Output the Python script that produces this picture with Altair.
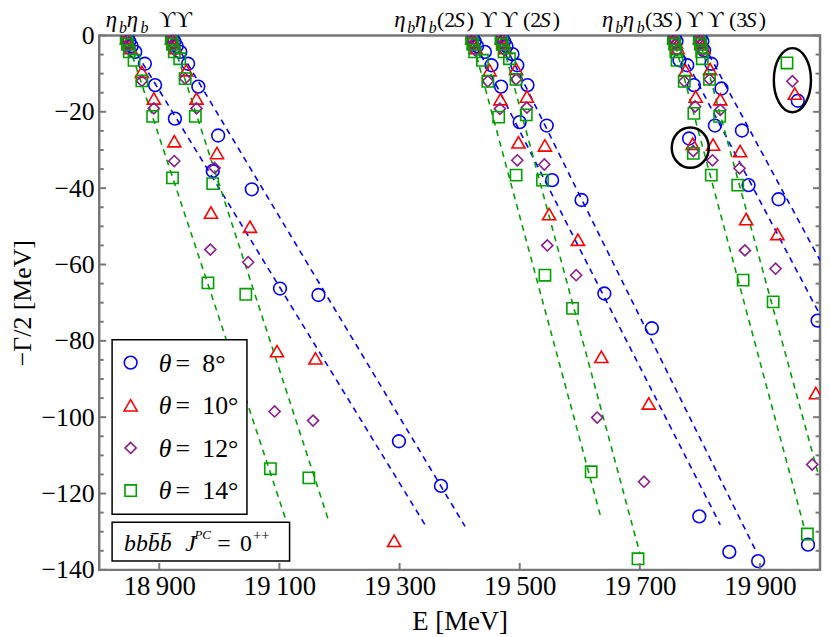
import altair as alt
import pandas as pd

SERIF = "Liberation Serif"

# ---------------- axes ----------------
E_RANGE = [18800, 20000]
V_RANGE = [-140, 0]
x_ticks = [18900, 19100, 19300, 19500, 19700, 19900]
y_ticks = [0, -20, -40, -60, -80, -100, -120, -140]
y_minor = [v for v in range(-135, 0, 5) if v % 20 != 0]

# ---------------- data: complex-scaled eigenvalues ----------------
theta_labels = ["8", "10", "12", "14"]

E8 = [18847, 18850, 18854, 18860, 18876, 18893, 18926, 18989, 19101, 19299,
      18922, 18925, 18929, 18935, 18948, 18965, 18998, 19054, 19165, 19369,
      19422, 19425, 19429, 19442, 19453, 19469, 19500, 19554, 19641, 19799,
      19471, 19474, 19478, 19488, 19496, 19513, 19545, 19603, 19720, 19849,
      19758, 19761, 19766, 19779, 19790, 19825, 19881, 19897,
      19801, 19804, 19807, 19819, 19836, 19870, 19931, 19996, 19980,
      19782, 19963]
V8 = [-0.6, -1.5, -2.8, -4.3, -7.4, -13.0, -21.8, -35.5, -66.3, -106.3,
      -0.6, -1.5, -2.8, -4.3, -7.4, -13.4, -26.2, -40.3, -68.0, -118.0,
      -0.6, -1.5, -2.8, -4.3, -7.8, -13.4, -22.7, -37.9, -67.6, -126.0,
      -0.6, -1.5, -2.8, -4.9, -7.8, -13.0, -23.6, -43.1, -76.7, -135.3,
      -0.6, -1.5, -6.5, -7.8, -13.0, -23.6, -39.2, -137.7,
      -0.6, -1.5, -3.9, -7.4, -13.9, -24.9, -42.9, -74.7, -133.4,
      -27.0, -17.1]

E10 = [18846, 18849, 18852, 18871, 18891, 18925, 18986, 19096,
       18921, 18924, 18927, 18945, 18962, 18996, 19051, 19160, 19291,
       19421, 19424, 19427, 19450, 19468, 19498, 19549, 19636,
       19470, 19473, 19476, 19494, 19512, 19542, 19597, 19715,
       19757, 19760, 19763, 19776, 19793, 19822, 19877,
       19800, 19803, 19806, 19817, 19834, 19867, 19929, 19993,
       19788, 19958]
V10 = [-0.7, -1.8, -3.3, -9.5, -16.5, -27.7, -46.4, -82.7,
       -0.7, -1.8, -3.3, -9.1, -16.5, -30.8, -50.1, -84.6, -132.4,
       -0.7, -1.8, -3.3, -9.1, -16.7, -28.0, -46.8, -84.2,
       -0.7, -1.8, -3.3, -8.7, -16.0, -28.8, -53.5, -96.4,
       -0.7, -1.8, -3.3, -9.1, -16.0, -28.6, -48.1,
       -0.7, -1.8, -3.3, -8.8, -16.7, -30.3, -52.0, -93.7,
       -28.4, -15.2]

E12 = [18845, 18848, 18851, 18871, 18891, 18925, 18985, 19092,
       18920, 18923, 18926, 18943, 18962, 18992, 19048, 19156,
       19420, 19423, 19426, 19447, 19467, 19496, 19546, 19629,
       19469, 19472, 19475, 19494, 19512, 19541, 19594, 19707,
       19756, 19759, 19762, 19774, 19792, 19821, 19875,
       19799, 19802, 19805, 19816, 19834, 19866, 19926, 19987,
       19789, 19954]
V12 = [-0.8, -2.1, -3.9, -11.9, -19.1, -32.9, -56.1, -98.5,
       -0.8, -2.1, -3.9, -11.3, -19.1, -34.7, -59.4, -100.9,
       -0.8, -2.1, -3.9, -12.0, -19.2, -32.7, -55.0, -100.1,
       -0.8, -2.1, -3.9, -11.5, -18.9, -33.8, -62.8, -116.9,
       -0.8, -2.1, -3.9, -12.0, -18.6, -32.7, -56.3,
       -0.8, -2.1, -3.9, -11.5, -19.5, -34.8, -61.1, -112.4,
       -30.3, -12.0]

E14 = [18845, 18847, 18850, 18858, 18871, 18889, 18922, 18981, 19085,
       18920, 18922, 18925, 18934, 18943, 18960, 18989, 19044, 19149,
       19420, 19422, 19425, 19438, 19447, 19465, 19494, 19542, 19619,
       19469, 19471, 19474, 19483, 19494, 19511, 19538, 19588, 19697,
       19756, 19758, 19760, 19762, 19774, 19790, 19819, 19872,
       19799, 19801, 19803, 19804, 19816, 19833, 19863, 19922, 19979,
       19789, 19945]
V14 = [-0.9, -2.3, -4.3, -6.5, -11.9, -21.2, -37.3, -64.8, -113.5,
       -0.9, -2.3, -4.3, -6.1, -11.3, -21.2, -38.8, -67.8, -115.9,
       -0.9, -2.3, -4.3, -6.5, -12.0, -21.4, -36.6, -62.8, -114.3,
       -0.9, -2.3, -4.3, -6.1, -11.5, -20.8, -37.9, -71.5, -137.1,
       -0.9, -2.3, -4.3, -6.5, -12.0, -20.4, -36.6, -64.1,
       -0.9, -2.3, -4.3, -6.1, -11.5, -21.2, -39.2, -69.8, -130.6,
       -30.9, -7.2]

# dashed continuum lines (start at threshold, end point)
blue_line_E = [(18844, 19346), (18919, 19409), (19419, 19834), (19468, 19895), (19755, 20000), (19798, 20000)]
blue_line_V = [(0, -129.1), (0, -128.6), (0, -128.2), (0, -135.6), (0, -73.2), (0, -58.9)]
green_line_E = [(18844, 19110), (18919, 19181), (19419, 19634), (19468, 19700), (19755, 19974), (19798, 19996)]
green_line_V = [(0, -126.5), (0, -126.7), (0, -125.6), (0, -135.6), (0, -129.1), (0, -114.3)]

# circled resonances
res_E = [19784, 19954]
res_V = [-29.4, -11.7]

# threshold labels (left edge position in MeV)
thr_names = ["ηbηb", "ϒϒ", "ηbηb(2S)", "ϒϒ(2S)", "ηbηb(3S)", "ϒϒ(3S)"]
thr_label_E = [18811, 18899, 19291, 19434, 19637, 19777]

# ---------------- styles ----------------
series_style = {
    "8": dict(shape="circle", color="#0000ff", size=165),
    "10": dict(shape="triangle-up", color="#ff0000", size=175),
    "12": dict(shape="diamond", color="#8b1c8b", size=125),
    "14": dict(shape="square", color="#00a000", size=130),
}
series_data = {"8": (E8, V8), "10": (E10, V10), "12": (E12, V12), "14": (E14, V14)}

W, H = 727, 539
GRAY = "#777777"

xs = alt.Scale(domain=E_RANGE, nice=False, zero=False)
ys = alt.Scale(domain=V_RANGE, nice=False, zero=False)

xaxis = alt.Axis(
    values=x_ticks,
    labelExpr="slice(format(datum.value,'d'),0,2) + '\u2009' + slice(format(datum.value,'d'),2)",
    labelFont=SERIF, labelFontSize=27, labelColor="black", labelPadding=25,
    labelBaseline="alphabetic", labelFlush=False, labelOverlap=False,
    ticks=False, tickSize=0, domain=False, grid=False,
    title="E [MeV]", titleFont=SERIF, titleFontSize=27, titleFontWeight="normal",
    titleColor="black", titleX=W / 2, titleY=60, titleBaseline="alphabetic", titleAlign="center",
)
yaxis = alt.Axis(
    values=y_ticks, format="d",
    labelFont=SERIF, labelFontSize=26, labelColor="black", labelPadding=5,
    labelFlush=False, labelOverlap=False,
    ticks=False, tickSize=0, domain=False, grid=False,
    title="−Γ/2  [MeV]", titleFont=SERIF, titleFontSize=26, titleFontWeight="normal",
    titleColor="black", titleX=-69, titleY=H / 2, titleAngle=270,
    titleBaseline="alphabetic", titleAlign="center",
)


def X(f):
    return alt.X(f, type="quantitative", scale=xs, axis=xaxis)


def Y(f):
    return alt.Y(f, type="quantitative", scale=ys, axis=yaxis)


one = pd.DataFrame({"k": [0]})
layers = []

# dashed lines
for color, Es, Vs in [("#0000ff", blue_line_E, blue_line_V), ("#00a000", green_line_E, green_line_V)]:
    rows = []
    for i, (e, v) in enumerate(zip(Es, Vs)):
        rows.append({"seg": i, "E": e[0], "V": v[0], "o": 0})
        rows.append({"seg": i, "E": e[1], "V": v[1], "o": 1})
    df = pd.DataFrame(rows)
    layers.append(
        alt.Chart(df).mark_line(color=color, strokeWidth=1.6, strokeDash=[6, 5], clip=True)
        .encode(x=X("E"), y=Y("V"), detail="seg:N", order="o:Q")
    )

# points
for lab in theta_labels:
    st = series_style[lab]
    Es, Vs = series_data[lab]
    df = pd.DataFrame({"E": Es, "V": Vs})
    layers.append(
        alt.Chart(df).mark_point(shape=st["shape"], color=st["color"], size=st["size"],
                                 filled=False, strokeWidth=1.6, opacity=1, clip=True)
        .encode(x=X("E"), y=Y("V"))
    )

# ellipses around resonances
ell_shapes = [("M -0.92,0 A 0.92,1 0 1,0 0.92,0 A 0.92,1 0 1,0 -0.92,0 Z", 1650),
              ("M -0.58,0 A 0.58,1 0 1,0 0.58,0 A 0.58,1 0 1,0 -0.58,0 Z", 4170)]
for (path, size), e, v in zip(ell_shapes, res_E, res_V):
    layers.append(
        alt.Chart(pd.DataFrame({"E": [e], "V": [v]}))
        .mark_point(shape=path, size=size, color="black", filled=False, strokeWidth=2.5, opacity=1)
        .encode(x=X("E"), y=Y("V"))
    )

# inward frame ticks
tdf_major = pd.DataFrame({"v": y_ticks})
tdf_minor = pd.DataFrame({"v": y_minor})
for df, ln in [(tdf_major, 7), (tdf_minor, 4.5)]:
    layers.append(alt.Chart(df).mark_rule(color=GRAY, strokeWidth=2)
                  .encode(y=Y("v"), x=alt.value(0), x2=alt.value(ln)))
    layers.append(alt.Chart(df).mark_rule(color=GRAY, strokeWidth=2)
                  .encode(y=Y("v"), x=alt.value(W), x2=alt.value(W - ln)))
layers.append(alt.Chart(pd.DataFrame({"e": x_ticks})).mark_rule(color=GRAY, strokeWidth=2)
              .encode(x=X("e"), y=alt.value(H), y2=alt.value(H - 7)))


# threshold labels above the frame
def label_pieces(name):
    out = []
    if name.startswith("ηbηb"):
        out += [("η", 0, 0, 23, "italic"), ("b", 13.3, 7, 16, "italic"),
                ("η", 21, 0, 23, "italic"), ("b", 35, 7, 16, "italic")]
    else:
        gap = 17 if "(" not in name else 21
        out += [("ϒ", 0, 0, 23, "normal"), ("ϒ", gap, 0, 23, "normal")]
    if "(" in name:
        n = name[name.index("(") + 1]
        base = 43.3
        out += [("(" + n, base, 0, 22, "normal"), ("S", base + 17, 0, 22, "italic"),
                (")", base + 30, 0, 22, "normal")]
    return out


for name, e in zip(thr_names, thr_label_E):
    for txt, dx, dy, fs, style in label_pieces(name):
        layers.append(
            alt.Chart(pd.DataFrame({"E": [e]}))
            .mark_text(text=txt, dx=dx, dy=dy, align="left", baseline="alphabetic",
                       font=SERIF, fontSize=fs, fontStyle=style, color="black")
            .encode(x=X("E"), y=alt.value(-9))
        )

# legend box
layers.append(alt.Chart(one).mark_rect(fill="white", stroke="black", strokeWidth=1.5)
              .encode(x=alt.value(13), x2=alt.value(149), y=alt.value(307), y2=alt.value(483)))
leg_rows = [330, 373, 416, 459]
for lab, ry in zip(theta_labels, leg_rows):
    st = series_style[lab]
    layers.append(alt.Chart(one).mark_point(shape=st["shape"], color=st["color"], size=st["size"],
                                            filled=False, strokeWidth=1.6, opacity=1)
                  .encode(x=alt.value(31.7), y=alt.value(ry)))
    layers.append(alt.Chart(one).mark_text(text="θ", align="left", baseline="middle", font=SERIF,
                                           fontSize=26, fontStyle="italic", color="black")
                  .encode(x=alt.value(60), y=alt.value(ry + 1)))
    layers.append(alt.Chart(one).mark_text(text="=", align="left", baseline="middle",
                                           font=SERIF, fontSize=26, color="black")
                  .encode(x=alt.value(77), y=alt.value(ry + 1)))
    layers.append(alt.Chart(one).mark_text(text=lab + "°", align="left", baseline="middle",
                                           font=SERIF, fontSize=26, color="black")
                  .encode(x=alt.value(104), y=alt.value(ry + 1)))

# quantum-number box
layers.append(alt.Chart(one).mark_rect(fill="white", stroke="black", strokeWidth=1.5)
              .encode(x=alt.value(13), x2=alt.value(192), y=alt.value(491), y2=alt.value(530)))
box_pieces = [("bbb\u0304b\u0304", 25, 520, 24, "italic"), ("J", 86.7, 520, 24, "italic"),
              ("PC", 96, 508, 13, "italic"), ("=", 119, 520, 24, "normal"),
              ("0", 142, 520, 24, "normal"), ("++", 155, 509, 15, "normal")]
for txt, px, py, fs, style in box_pieces:
    layers.append(alt.Chart(one).mark_text(text=txt, align="left", baseline="alphabetic", font=SERIF,
                                           fontSize=fs, fontStyle=style, color="black")
                  .encode(x=alt.value(px), y=alt.value(py)))

chart = alt.layer(*layers).properties(
    width=W, height=H,
    autosize=alt.AutoSizeParams(type="none"),
    padding={"left": 92, "top": 25, "right": 2, "bottom": 65},
).configure_view(stroke=GRAY, strokeWidth=2.5)

chart.save("out.html", embed_options={"renderer": "svg", "actions": False})
